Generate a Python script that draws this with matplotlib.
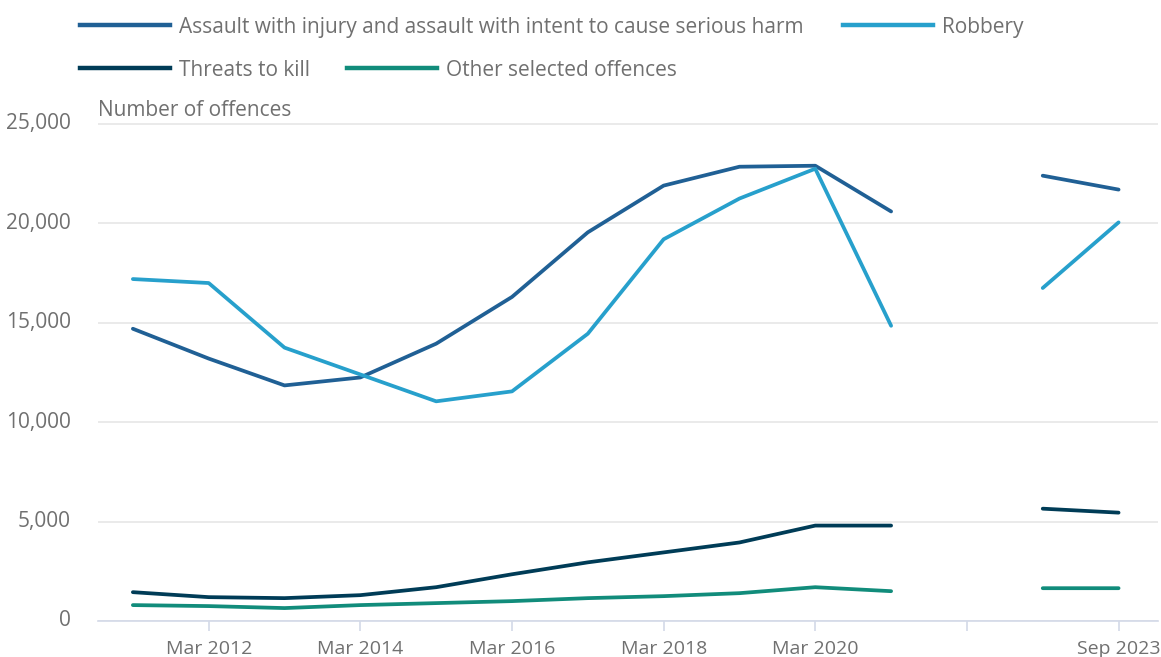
import numpy as np
import matplotlib
matplotlib.use("Agg")
import matplotlib.pyplot as plt
from matplotlib.lines import Line2D

plt.rcParams.update({"font.family": ["Open Sans", "DejaVu Sans"], "font.size": 15})
TEXT = "#707070"; GRID = "#e6e6e6"; AXIS = "#d3d9e8"

# Year ending periods; the slot after Mar 2021 has no published figures
periods = ["Mar 2011", "Mar 2012", "Mar 2013", "Mar 2014", "Mar 2015", "Mar 2016", "Mar 2017",
           "Mar 2018", "Mar 2019", "Mar 2020", "Mar 2021", "Mar 2022", "Sep 2022", "Sep 2023"]
tick_labels = ["", "Mar 2012", "", "Mar 2014", "", "Mar 2016", "", "Mar 2018", "", "Mar 2020",
               "", "", "", "Sep 2023"]

assault = [14700, 13200, 11850, 12250, 13950, 16300, 19550, 21900, 22850, 22900, 20600,
           np.nan, 22400, 21700]
robbery = [17200, 17000, 13750, 12400, 11050, 11550, 14450, 19200, 21250, 22750, 14850,
           np.nan, 16750, 20050]
threats = [1450, 1200, 1150, 1300, 1700, 2350, 2950, 3450, 3950, 4800, 4800,
           np.nan, 5650, 5450]
other = [800, 750, 650, 800, 900, 1000, 1150, 1250, 1400, 1700, 1500,
         np.nan, 1650, 1650]

series = [("Assault with injury and assault with intent to cause serious harm", assault, "#206095"),
          ("Robbery", robbery, "#27a0cc"),
          ("Threats to kill", threats, "#003c57"),
          ("Other selected offences", other, "#118c7b")]

fig = plt.figure(figsize=(11.61, 6.57), dpi=100)
ax = fig.add_axes([98 / 1161, 1 - 621 / 657, 1060 / 1161, (621 - 121) / 657])
x = np.arange(len(periods))
for name, vals, col in series:
    ax.plot(x, vals, color=col, lw=2.7, solid_joinstyle="round", solid_capstyle="round", zorder=3)

ax.set_xlim(-0.46, 13.52); ax.set_ylim(0, 25150)
ax.set_yticks([0, 5000, 10000, 15000, 20000, 25000])
ax.set_yticklabels([f"{v:,}" for v in ax.get_yticks().astype(int)])
ax.set_xticks(x[1::2]); ax.set_xticklabels(tick_labels[1::2])
ax.grid(axis="y", color=GRID, lw=1.2, zorder=0)
for s in ("top", "right", "left"): ax.spines[s].set_visible(False)
ax.spines["bottom"].set_color(AXIS); ax.spines["bottom"].set_linewidth(1.2)
ax.tick_params(axis="y", length=0, pad=19.5, colors=TEXT, labelsize=15)
ax.tick_params(axis="x", length=7, width=1.2, color=AXIS, pad=7, labelcolor=TEXT, labelsize=14)
for lab in ax.get_yticklabels(): lab.set_va("center")
fig.text(98 / 1161, 1 - 111 / 657, "Number of offences", ha="left", va="center",
         color=TEXT, fontsize=15)

# hand-placed legend rows
rows = [(25, [(80, 0), (843, 1)]), (68, [(80, 2), (347, 3)])]
for y, items in rows:
    yf = 1 - y / 657
    for xp, i in items:
        name, _, col = series[i]
        fig.add_artist(Line2D([xp / 1161, (xp + 90) / 1161], [yf, yf], color=col, lw=3.2))
        fig.text((xp + 99) / 1161, yf - 2 / 657, name, ha="left", va="center", color=TEXT, fontsize=15)

fig.savefig("out.png", dpi=100)
